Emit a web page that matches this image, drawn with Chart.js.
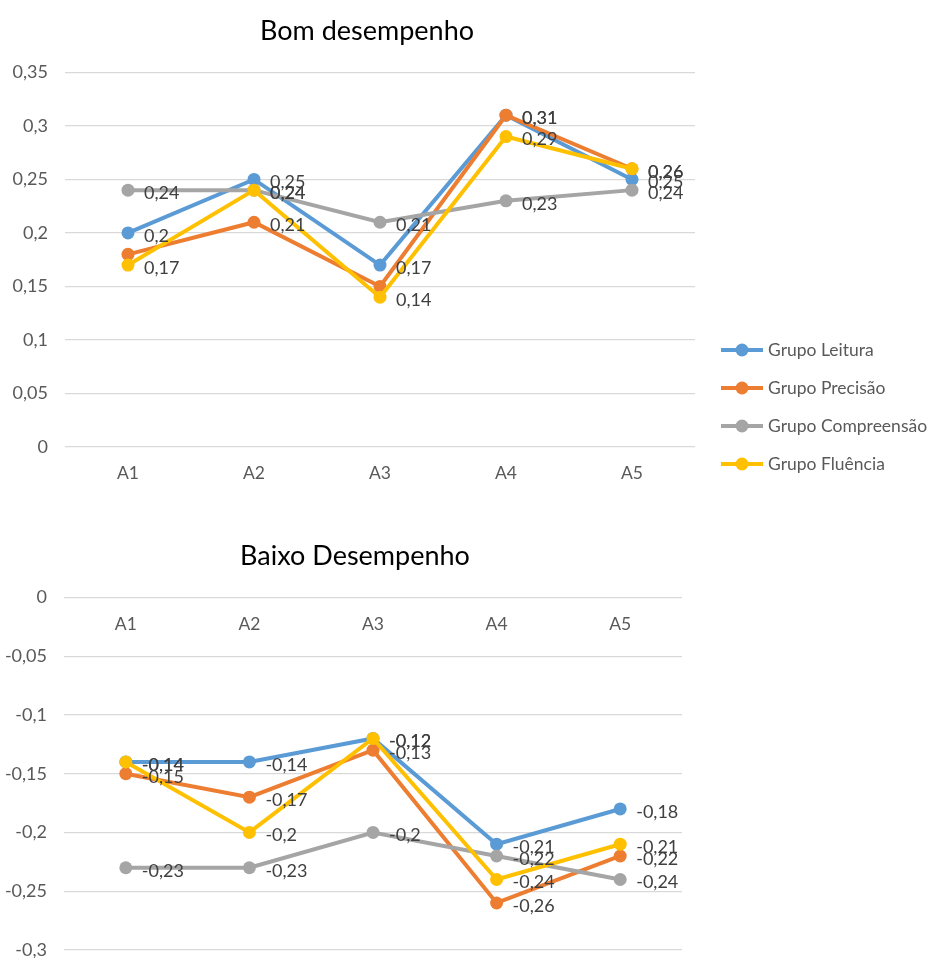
<!DOCTYPE html>
<html>
<head>
<meta charset="utf-8">
<title>Bom / Baixo desempenho</title>
<script src="https://cdn.jsdelivr.net/npm/chart.js@4.4.0/dist/chart.umd.min.js"></script>
<style>
  body { margin: 0; background: #fff; }
  .box { position: absolute; left: 0; width: 929px; }
  #boxTop { top: 0; height: 500px; }
  #boxBottom { top: 520px; height: 438px; }
</style>
</head>
<body>
<div class="box" id="boxTop"><canvas id="bomChart"></canvas></div>
<div class="box" id="boxBottom"><canvas id="baixoChart"></canvas></div>
<script>
const categories = ['A1', 'A2', 'A3', 'A4', 'A5'];
const seriesNames = ['Grupo Leitura', 'Grupo Precisão', 'Grupo Compreensão', 'Grupo Fluência'];
const colors = ['#5B9BD5', '#ED7D31', '#A5A5A5', '#FFC000'];

// Bom desempenho
const bomLeitura = [0.20, 0.25, 0.17, 0.31, 0.25];
const bomPrecisao = [0.18, 0.21, 0.15, 0.31, 0.26];
const bomCompreensao = [0.24, 0.24, 0.21, 0.23, 0.24];
const bomFluencia = [0.17, 0.24, 0.14, 0.29, 0.26];
// labels not shown in the original (series index, point index)
const bomHiddenLabels = [[1, 0], [1, 2]];

// Baixo desempenho
const baixoLeitura = [-0.14, -0.14, -0.12, -0.21, -0.18];
const baixoPrecisao = [-0.15, -0.17, -0.13, -0.26, -0.22];
const baixoCompreensao = [-0.23, -0.23, -0.20, -0.22, -0.24];
const baixoFluencia = [-0.14, -0.20, -0.12, -0.24, -0.21];

const fmt = v => String(parseFloat(Number(v).toFixed(2))).replace('.', ',');

Chart.defaults.font.family = 'Lato, "Open Sans", sans-serif';
Chart.defaults.color = '#595959';

function makeDatasets(values) {
  return values.map((vals, i) => ({
    label: seriesNames[i],
    data: vals,
    borderColor: colors[i],
    backgroundColor: colors[i],
    borderWidth: 4,
    pointRadius: 6.5,
    pointHoverRadius: 6.5,
    pointBorderWidth: 0,
    tension: 0,
    order: values.length - i
  }));
}

// value labels right of each point
const valueLabels = {
  id: 'valueLabels',
  afterDatasetsDraw(chart, args, opts) {
    const ctx = chart.ctx;
    const hidden = opts.hidden || [];
    ctx.save();
    ctx.font = '18px Lato, sans-serif';
    ctx.fillStyle = '#404040';
    ctx.textAlign = 'left';
    ctx.textBaseline = 'middle';
    chart.data.datasets.forEach((ds, di) => {
      const meta = chart.getDatasetMeta(di);
      meta.data.forEach((pt, pi) => {
        if (hidden.some(h => h[0] === di && h[1] === pi)) return;
        ctx.fillText(fmt(ds.data[pi]), pt.x + 16, pt.y + 3);
      });
    });
    ctx.restore();
  }
};

// title centred over a chosen width, as in the spreadsheet
const titleSpan = {
  id: 'titleSpan',
  afterLayout(chart, args, opts) {
    if (chart.titleBlock && opts.right) {
      chart.titleBlock.left = 0;
      chart.titleBlock.right = opts.right;
    }
  }
};

// legend with line + marker swatch
const sideLegend = {
  id: 'sideLegend',
  afterDraw(chart, args, opts) {
    if (!opts.display) return;
    const ctx = chart.ctx;
    ctx.save();
    ctx.font = '17.5px Lato, sans-serif';
    ctx.textBaseline = 'middle';
    chart.data.datasets.forEach((ds, i) => {
      const y = opts.top + i * opts.spacing;
      ctx.strokeStyle = ds.borderColor;
      ctx.lineWidth = 4;
      ctx.beginPath();
      ctx.moveTo(opts.left, y);
      ctx.lineTo(opts.left + 42, y);
      ctx.stroke();
      ctx.fillStyle = ds.borderColor;
      ctx.beginPath();
      ctx.arc(opts.left + 21, y, 6.5, 0, Math.PI * 2);
      ctx.fill();
      ctx.fillStyle = '#595959';
      ctx.fillText(ds.label, opts.left + 47, y);
    });
    ctx.restore();
  }
};

function yAxis(min, max, width) {
  return {
    min, max,
    ticks: { stepSize: 0.05, padding: 17, font: { size: 18 }, callback: v => fmt(v) },
    grid: { color: '#d9d9d9', lineWidth: 1.3, drawTicks: false },
    border: { display: false },
    afterFit: s => {
      s.width = width;
      s.paddingTop = 0;
      s.paddingBottom = 0;
    }
  };
}

function buildBomChart() {
  const ctx = document.getElementById('bomChart').getContext('2d');
  new Chart(ctx, {
    type: 'line',
    data: {
      labels: categories,
      datasets: makeDatasets([bomLeitura, bomPrecisao, bomCompreensao, bomFluencia])
    },
    plugins: [valueLabels, titleSpan, sideLegend],
    options: {
      responsive: true,
      maintainAspectRatio: false,
      animation: false,
      layout: { padding: { left: 0, right: 234, top: 0, bottom: 0 } },
      plugins: {
        legend: { display: false },
        tooltip: { enabled: false },
        title: {
          display: true,
          text: 'Bom desempenho',
          color: '#000',
          fullSize: false,
          font: { size: 27, weight: 'normal' },
          padding: { top: 15, bottom: 25 }
        },
        titleSpan: { right: 734 },
        valueLabels: { hidden: bomHiddenLabels },
        sideLegend: { display: true, left: 721, top: 350, spacing: 38 }
      },
      scales: {
        x: {
          offset: true,
          ticks: { padding: 16, font: { size: 17.5 } },
          grid: { display: false, drawTicks: false },
          border: { display: false },
          afterFit: s => { s.height = 53; }
        },
        y: yAxis(0, 0.35, 65)
      }
    }
  });
}

function buildBaixoChart() {
  const ctx = document.getElementById('baixoChart').getContext('2d');
  new Chart(ctx, {
    type: 'line',
    data: {
      labels: categories,
      datasets: makeDatasets([baixoLeitura, baixoPrecisao, baixoCompreensao, baixoFluencia])
    },
    plugins: [valueLabels, titleSpan],
    options: {
      responsive: true,
      maintainAspectRatio: false,
      animation: false,
      layout: { padding: { left: 0, right: 247, top: 0, bottom: 8 } },
      plugins: {
        legend: { display: false },
        tooltip: { enabled: false },
        title: {
          display: true,
          text: 'Baixo Desempenho',
          color: '#000',
          fullSize: false,
          font: { size: 27, weight: 'normal' },
          padding: { top: 20, bottom: 25 }
        },
        titleSpan: { right: 710 }
      },
      scales: {
        x: {
          position: { y: 0 },
          offset: true,
          ticks: { padding: 16, font: { size: 17.5 } },
          grid: { display: false, drawTicks: false },
          border: { display: false },
          afterFit: s => { s.height = 0; }
        },
        y: yAxis(-0.3, 0, 64)
      }
    }
  });
}

document.addEventListener('DOMContentLoaded', () => {
  buildBomChart();
  buildBaixoChart();
});
</script>
</body>
</html>
